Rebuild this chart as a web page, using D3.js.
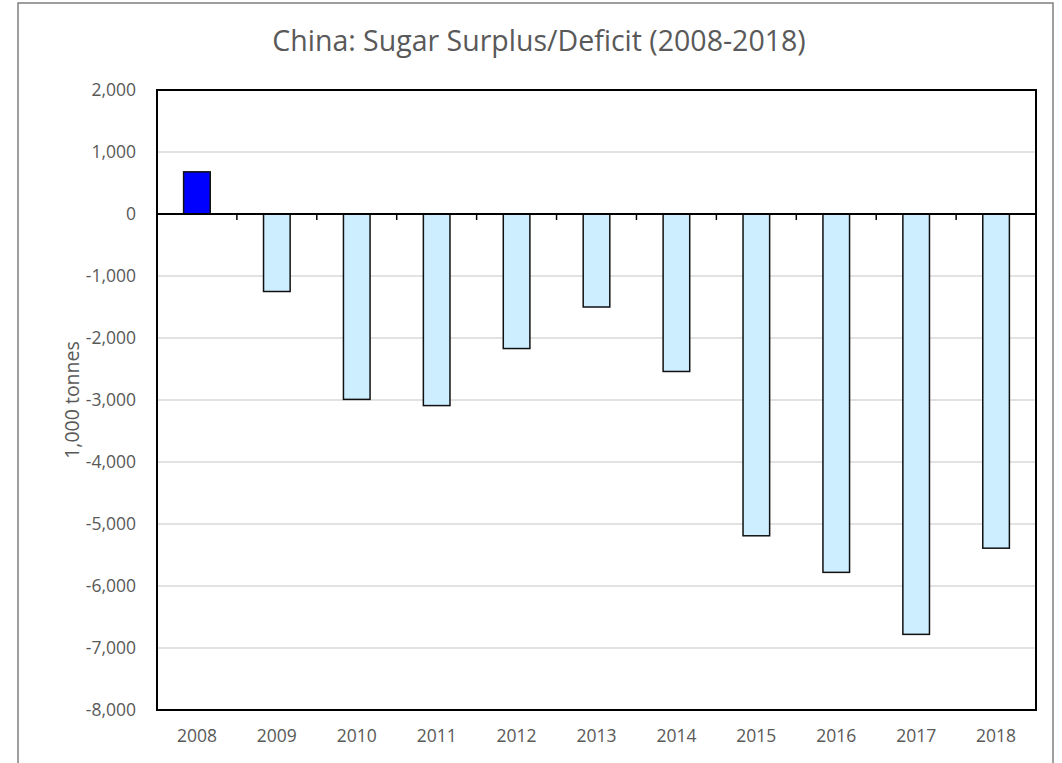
<!DOCTYPE html>
<html>
<head>
<meta charset="utf-8">
<script src="https://cdn.jsdelivr.net/npm/d3@7"></script>
<style>
  html, body { margin: 0; padding: 0; background: #fff; }
  svg { display: block; }
  text { font-family: "Open Sans", "Liberation Sans", sans-serif; fill: #595959; }
</style>
</head>
<body>
<svg id="chart" width="1062" height="763"></svg>
<script>
// Annual sugar balance for China, thousand tonnes
const years = ["2008","2009","2010","2011","2012","2013","2014","2015","2016","2017","2018"];
const balance = [680, -1250, -2990, -3090, -2170, -1500, -2540, -5190, -5780, -6780, -5390];
const yTicks = [2000, 1000, 0, -1000, -2000, -3000, -4000, -5000, -6000, -7000, -8000];

const svg = d3.select("#chart");
const plot = { left: 157, top: 90, right: 1036, bottom: 710 };

// thousands separator with a plain hyphen for negatives
const fmt = d => d3.format(",")(d).replace("\u2212", "-");

// outer chart frame
svg.append("rect")
  .attr("x", 18).attr("y", 3)
  .attr("width", 1035).attr("height", 780)
  .attr("fill", "#fff").attr("stroke", "#7f7f7f").attr("stroke-width", 1.5);

const x = d3.scaleBand()
  .domain(years)
  .range([plot.left, plot.right])
  .paddingInner(0.667)
  .paddingOuter(0.333);

const y = d3.scaleLinear()
  .domain([-8000, 2000])
  .range([plot.bottom, plot.top]);

// horizontal gridlines
svg.append("g")
  .selectAll("line")
  .data(yTicks)
  .join("line")
  .attr("x1", plot.left).attr("x2", plot.right)
  .attr("y1", d => y(d)).attr("y2", d => y(d))
  .attr("stroke", "#d9d9d9").attr("stroke-width", 1.5);

// y axis labels
const yAxis = d3.axisLeft(y)
  .tickValues(yTicks)
  .tickFormat(fmt)
  .tickSize(0)
  .tickPadding(21);
const gy = svg.append("g")
  .attr("transform", `translate(${plot.left},0)`)
  .call(yAxis);
gy.select(".domain").remove();
gy.selectAll("text")
  .style("font-size", "17.5px")
  .style("font-family", "'Open Sans', sans-serif")
  .attr("fill", "#595959");

// bars
svg.append("g")
  .selectAll("rect")
  .data(years.map((yr, i) => ({ yr, v: balance[i] })))
  .join("rect")
  .attr("x", d => x(d.yr))
  .attr("width", x.bandwidth())
  .attr("y", d => y(Math.max(0, d.v)))
  .attr("height", d => Math.abs(y(d.v) - y(0)))
  .attr("fill", d => d.v >= 0 ? "#0000ff" : "#cceeff")
  .attr("stroke", "#111")
  .attr("stroke-width", 1.5);

// zero line with category tick marks
svg.append("line")
  .attr("x1", plot.left).attr("x2", plot.right)
  .attr("y1", y(0)).attr("y2", y(0))
  .attr("stroke", "#000").attr("stroke-width", 2);

const step = x.step();
svg.append("g")
  .selectAll("line")
  .data(years.slice(1))
  .join("line")
  .attr("x1", d => x(d) - x.paddingInner() * step / 2)
  .attr("x2", d => x(d) - x.paddingInner() * step / 2)
  .attr("y1", y(0)).attr("y2", y(0) + 6)
  .attr("stroke", "#000").attr("stroke-width", 1.5);

// plot area border
svg.append("rect")
  .attr("x", plot.left).attr("y", plot.top)
  .attr("width", plot.right - plot.left).attr("height", plot.bottom - plot.top)
  .attr("fill", "none").attr("stroke", "#000").attr("stroke-width", 2);

// x axis labels
const xAxis = d3.axisBottom(x).tickSize(0).tickPadding(20);
const gx = svg.append("g")
  .attr("transform", `translate(0,${plot.bottom})`)
  .call(xAxis);
gx.select(".domain").remove();
gx.selectAll("text")
  .style("font-size", "17.5px")
  .style("font-family", "'Open Sans', sans-serif")
  .attr("fill", "#595959");

// y axis title
svg.append("text")
  .attr("transform", `translate(79,${(plot.top + plot.bottom) / 2}) rotate(-90)`)
  .attr("text-anchor", "middle")
  .style("font-size", "19.5px")
  .text("1,000 tonnes");

// chart title
svg.append("text")
  .attr("x", 539).attr("y", 51)
  .attr("text-anchor", "middle")
  .style("font-size", "28.5px")
  .text("China: Sugar Surplus/Deficit (2008-2018)");
</script>
</body>
</html>
